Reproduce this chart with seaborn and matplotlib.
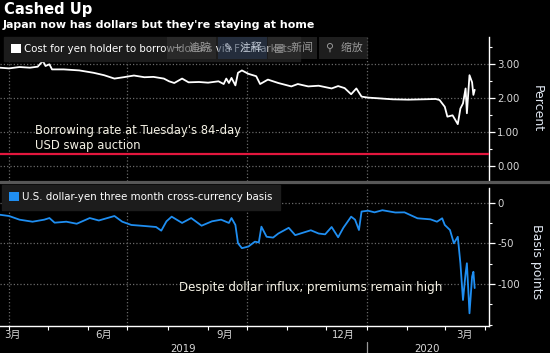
import matplotlib
matplotlib.use("Agg")
import matplotlib.pyplot as plt
import matplotlib.dates as mdates
import matplotlib.transforms as mtransforms
from matplotlib.patches import Patch, Rectangle
from matplotlib.lines import Line2D
from matplotlib.ticker import FixedLocator, MultipleLocator, FuncFormatter
import pandas as pd
import seaborn as sns

# --- DATA ---
COST_DATES = ['2019-03-25', '2019-04-01', '2019-04-09', '2019-04-17', '2019-04-23', '2019-04-27',
              '2019-04-29', '2019-05-02', '2019-05-04', '2019-05-13', '2019-05-25', '2019-06-05',
              '2019-06-13', '2019-06-21', '2019-06-28', '2019-07-06', '2019-07-14', '2019-07-21',
              '2019-07-29', '2019-08-02', '2019-08-06', '2019-08-12', '2019-08-17', '2019-08-25',
              '2019-09-01', '2019-09-09', '2019-09-13', '2019-09-15', '2019-09-17', '2019-09-19',
              '2019-09-22', '2019-09-24', '2019-09-27', '2019-10-02', '2019-10-08', '2019-10-11',
              '2019-10-17', '2019-10-25', '2019-11-04', '2019-11-09', '2019-11-17', '2019-11-25',
              '2019-12-05', '2019-12-10', '2019-12-15', '2019-12-20', '2019-12-24', '2019-12-28',
              '2020-01-02', '2020-01-10', '2020-01-21', '2020-02-02', '2020-02-13', '2020-02-23',
              '2020-02-26', '2020-03-01', '2020-03-03', '2020-03-07', '2020-03-11', '2020-03-13',
              '2020-03-15', '2020-03-17', '2020-03-18', '2020-03-20', '2020-03-22', '2020-03-23',
              '2020-03-24']
COST_VALUES = [2.90, 2.88, 2.92, 2.90, 2.93, 3.10,
               2.95, 3.00, 2.85, 2.85, 2.82, 2.75,
               2.68, 2.58, 2.62, 2.67, 2.62, 2.63,
               2.58, 2.50, 2.45, 2.58, 2.47, 2.48,
               2.46, 2.50, 2.42, 2.58, 2.45, 2.60,
               2.38, 2.75, 2.82, 2.72, 2.65, 2.42,
               2.55, 2.45, 2.35, 2.42, 2.35, 2.37,
               2.29, 2.36, 2.30, 2.12, 2.29, 2.05,
               2.02, 2.00, 1.97, 1.96, 1.97, 1.98,
               1.95, 1.75, 1.46, 1.50, 1.24, 1.70,
               1.85, 2.29, 1.56, 2.68, 2.47, 2.10,
               2.25]
AUCTION_RATE = 0.35

BASIS_DATES = ['2019-03-25', '2019-04-01', '2019-04-09', '2019-04-19', '2019-04-28', '2019-05-02',
               '2019-05-06', '2019-05-15', '2019-05-23', '2019-06-02', '2019-06-09', '2019-06-21',
               '2019-06-27', '2019-07-04', '2019-07-12', '2019-07-23', '2019-07-27', '2019-07-31',
               '2019-08-04', '2019-08-12', '2019-08-19', '2019-08-27', '2019-09-04', '2019-09-11',
               '2019-09-17', '2019-09-19', '2019-09-22', '2019-09-24', '2019-09-27', '2019-10-02',
               '2019-10-07', '2019-10-10', '2019-10-12', '2019-10-16', '2019-10-21', '2019-10-25',
               '2019-11-02', '2019-11-07', '2019-11-15', '2019-11-19', '2019-11-25', '2019-11-30',
               '2019-12-05', '2019-12-10', '2019-12-14', '2019-12-20', '2019-12-23', '2019-12-26',
               '2019-12-28', '2020-01-02', '2020-01-07', '2020-01-13', '2020-01-23', '2020-01-30',
               '2020-02-09', '2020-02-19', '2020-02-24', '2020-02-28', '2020-03-01', '2020-03-05',
               '2020-03-08', '2020-03-11', '2020-03-13', '2020-03-15', '2020-03-17', '2020-03-18',
               '2020-03-20', '2020-03-22', '2020-03-23', '2020-03-24']
BASIS_VALUES = [-15, -16.5, -21, -23.5, -21, -19,
                -24.7, -23.5, -26, -19, -22, -16.5,
                -23.5, -27.5, -28.5, -30, -34.5, -23,
                -17.3, -25, -19, -28.4, -23, -21,
                -25, -19, -27.5, -50, -56, -54,
                -48, -49, -29.6, -42, -43, -38,
                -31, -40, -36, -34, -38, -39,
                -30, -42.6, -31, -17.3, -21, -33.7,
                -11, -10, -12, -9.4, -12.2, -12,
                -19.3, -20.6, -23.5, -19.3, -27.5, -33.7,
                -50, -42, -74.5, -119.7, -87, -74.5,
                -136, -91, -85, -105]

MONTH_LABELS = ['3月', '6月', '9月', '12月', '3月']
MONTH_LABEL_DATES = ['2019-03-28', '2019-06-13', '2019-09-14', '2019-12-14', '2020-03-16']
YEAR_LABELS = ['2019', '2020']
YEAR_LABEL_DATES = ['2019-08-13', '2020-02-16']
YEAR_BREAK = '2020-01-01'
QUARTER_LINES = ['2019-04-01', '2019-07-01', '2019-10-01', '2020-01-01']
X_RANGE = ['2019-03-25', '2020-04-04']

COST_LABEL = 'Cost for yen holder to borrow dollars via FX markets'
BASIS_LABEL = 'U.S. dollar-yen three month cross-currency basis'
TOOLBAR = [('+', '追踪'), ('✎', '注释'), ('▤', '新闻'), ('⚲', '缩放')]

# --- STYLE ---
BG = 'black'
GRID = '#6a6a6a'
TXT = '#d8d8d8'
BLUE = '#1f8ef1'
RED = '#e3173e'

sns.set_theme(style='dark', rc={'axes.facecolor': BG, 'figure.facecolor': BG,
                                'savefig.facecolor': BG})
plt.rcParams['font.family'] = ['DejaVu Sans', 'Noto Sans CJK SC']

W, H = 550, 353
fig = plt.figure(figsize=(W / 100, H / 100), dpi=100)

ax1 = fig.add_axes([0, 1 - 181 / H, 489 / W, 144 / H])
ax2 = fig.add_axes([0, 1 - 326 / H, 489 / W, 138 / H])

cost = pd.DataFrame({'date': pd.to_datetime(COST_DATES), 'value': COST_VALUES})
basis = pd.DataFrame({'date': pd.to_datetime(BASIS_DATES), 'value': BASIS_VALUES})

sns.lineplot(data=cost, x='date', y='value', ax=ax1, color='white', lw=1.3, zorder=3)
ax1.axhline(AUCTION_RATE, color=RED, lw=1.6, zorder=3)
sns.lineplot(data=basis, x='date', y='value', ax=ax2, color=BLUE, lw=1.3, zorder=3)

xlim = [mdates.date2num(pd.Timestamp(d)) for d in X_RANGE]
ax1.set_ylim(-0.432, 3.803)
ax2.set_ylim(-151.6, 17.9)

for ax in (ax1, ax2):
    ax.set_facecolor(BG)
    ax.set_xlim(xlim)
    ax.set_xlabel('')
    for s in ('left', 'top', 'bottom'):
        ax.spines[s].set_visible(False)
    ax.spines['right'].set_visible(True)
    ax.spines['right'].set_color('white')
    ax.spines['right'].set_linewidth(1.0)
    ax.yaxis.tick_right()
    ax.yaxis.set_label_position('right')
    ax.tick_params(axis='y', which='major', direction='out', length=4, width=0.9,
                   color='white', labelcolor=TXT, labelsize=7.3, pad=2, right=True, left=False)
    ax.tick_params(axis='y', which='minor', direction='out', length=2.5, width=0.8,
                   color='white', right=True, left=False)
    ax.grid(axis='y', which='major', ls=':', color=GRID, lw=0.9)
    ax.grid(axis='x', visible=False)
    for d in QUARTER_LINES:
        ax.axvline(mdates.date2num(pd.Timestamp(d)), ls=':', color=GRID, lw=0.9, zorder=1)

ax1.yaxis.set_major_locator(MultipleLocator(1))
ax1.yaxis.set_minor_locator(MultipleLocator(0.5))
ax1.yaxis.set_major_formatter(FuncFormatter(lambda v, p: f'{v:.2f}'))
ax1.tick_params(axis='x', which='both', length=0, labelbottom=False)
ax1.set_ylabel('Percent', rotation=270, color='#dfe6f0', fontsize=9)

ax2.yaxis.set_major_locator(FixedLocator([0, -50, -100]))
ax2.yaxis.set_minor_locator(MultipleLocator(25))
ax2.yaxis.set_major_formatter(FuncFormatter(lambda v, p: f'{v:.0f}'))
ax2.set_ylabel('Basis points', rotation=270, color='#dfe6f0', fontsize=9)
for lab in (ax1.yaxis.label, ax2.yaxis.label):
    lab.set_va('center')
    lab.set_ha('center')
ax1.yaxis.set_label_coords(1.098, 0.5)
ax2.yaxis.set_label_coords(1.098, 0.47)

# x axis: month ticks at month starts, labels mid-month
ax2.spines['bottom'].set_visible(True)
ax2.spines['bottom'].set_color('white')
ax2.spines['bottom'].set_linewidth(1.0)
ax2.xaxis.set_major_locator(mdates.MonthLocator())
ax2.tick_params(axis='x', which='major', direction='out', length=3, width=0.8, color='white',
                labelbottom=False, bottom=True)
ax2.set_xticks([mdates.date2num(pd.Timestamp(d)) for d in MONTH_LABEL_DATES], MONTH_LABELS, minor=True)
ax2.tick_params(axis='x', which='minor', length=0, labelsize=7.3, labelcolor=TXT, pad=3, bottom=True)
ax2.get_xticklabels(minor=True)[0].set_ha('left')

blend = mtransforms.blended_transform_factory(ax2.transData, ax2.transAxes)
for lab, d in zip(YEAR_LABELS, YEAR_LABEL_DATES):
    ax2.text(mdates.date2num(pd.Timestamp(d)), -0.165, lab, transform=blend,
             ha='center', va='center', fontsize=7.3, color=TXT)
xb = mdates.date2num(pd.Timestamp(YEAR_BREAK))
ax2.plot([xb, xb], [-0.115, -0.2], transform=blend, clip_on=False, color='#9a9a9a', lw=0.9)

# legends
leg_kw = dict(loc='upper left', borderaxespad=0, frameon=True, fancybox=False,
              facecolor='#1c1c1c', edgecolor='#1c1c1c', framealpha=1,
              handlelength=0.95, handleheight=0.95, handletextpad=0.35, borderpad=0.7,
              fontsize=7.35, labelcolor='white')
ax1.legend(handles=[Patch(facecolor='white', edgecolor='none')], labels=[COST_LABEL],
           bbox_to_anchor=(4 / 489, 1.0), **leg_kw)
ax2.legend(handles=[Patch(facecolor=BLUE, edgecolor='none')], labels=[BASIS_LABEL],
           bbox_to_anchor=(2 / 489, 1.02), **leg_kw)

# panel separator
fig.add_artist(Line2D([0, 1], [1 - 181.5 / H] * 2, transform=fig.transFigure, color='#575757', lw=2.3))

# titles
fig.text(4 / W, 1 - 2 / H, 'Cashed Up', ha='left', va='top', fontsize=10.6, weight='bold', color='white')
fig.text(3 / W, 1 - 20 / H, "Japan now has dollars but they're staying at home", ha='left', va='top',
         fontsize=7.9, weight='bold', color='white')

# annotations
fig.text(35 / W, 1 - 124 / H, "Borrowing rate at Tuesday's 84-day\nUSD swap auction", ha='left', va='top',
         fontsize=8.4, color='#f4f1e4', linespacing=1.2)
fig.text(179 / W, 1 - 287 / H, 'Despite dollar influx, premiums remain high', ha='left', va='center',
         fontsize=8.6, color='#f4f1e4')

# overlaid chart toolbar (semi-transparent, as in the screenshot)
box_x = [167, 218, 268, 319]
for i, ((icon, word), x0) in enumerate(zip(TOOLBAR, box_x)):
    fc = '#2a3a52' if i == 1 else '#333333'
    fig.add_artist(Rectangle((x0 / W, 1 - 59 / H), 49 / W, 22 / H, transform=fig.transFigure,
                             facecolor=fc, edgecolor='none', alpha=0.6, zorder=5))
    fig.text((x0 + 25) / W, 1 - 47.5 / H, f'{icon}  {word}', ha='center', va='center', fontsize=7.8,
             color='#9a9a9a' if i != 1 else '#c0c8d4', zorder=6)

fig.savefig('out.png', dpi=100, facecolor=BG)
